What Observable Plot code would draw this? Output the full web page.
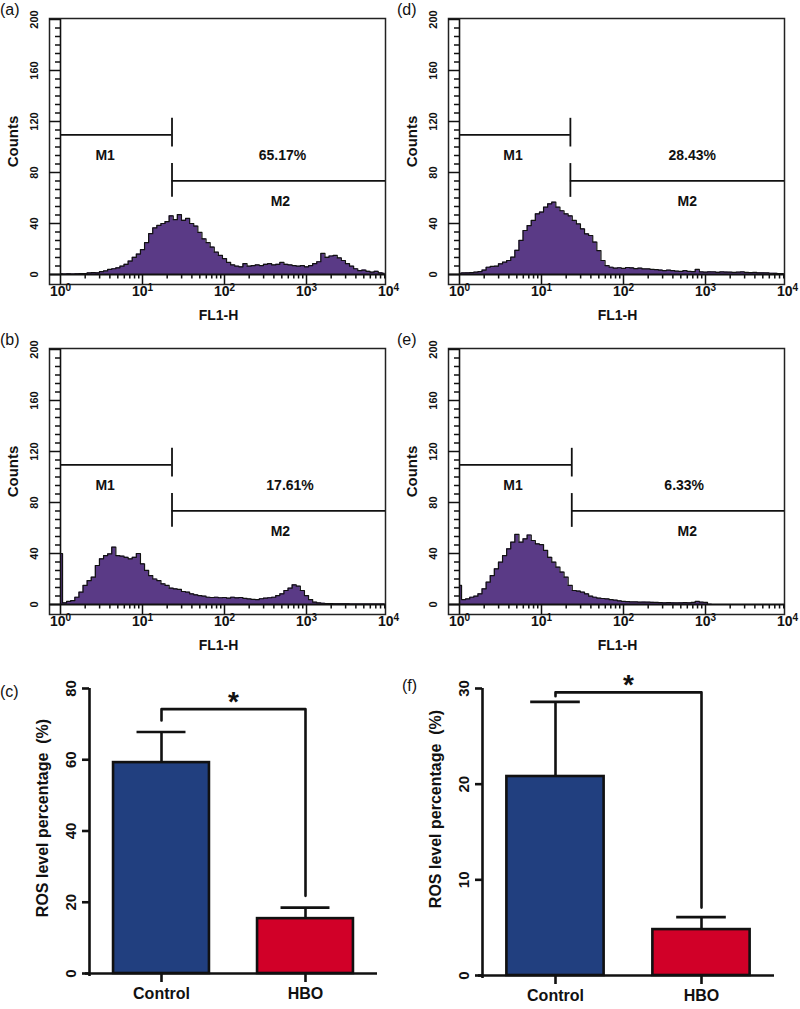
<!DOCTYPE html>
<html><head><meta charset="utf-8">
<script src="https://cdn.jsdelivr.net/npm/d3@7"></script>
<script src="https://cdn.jsdelivr.net/npm/@observablehq/plot@0.6"></script>
<style>
body{margin:0;background:#fff;}
#fig{position:relative;width:800px;height:1009px;font-family:"Liberation Sans",Arial,sans-serif;overflow:hidden;}
.panel{position:absolute;}
.lab{position:absolute;font-size:16px;color:#111;line-height:1;}
</style></head><body><div id="fig"></div>
<script>
// FL1-H channel positions (log10 units)
const logChannel = [
  0, 0.05, 0.1, 0.15, 0.2, 0.25, 0.3, 0.35, 0.4, 0.45,
  0.5, 0.55, 0.6, 0.65, 0.7, 0.75, 0.8, 0.85, 0.9, 0.95,
  1, 1.05, 1.1, 1.15, 1.2, 1.25, 1.3, 1.35, 1.4, 1.45,
  1.5, 1.55, 1.6, 1.65, 1.7, 1.75, 1.8, 1.85, 1.9, 1.95,
  2, 2.05, 2.1, 2.15, 2.2, 2.25, 2.3, 2.35, 2.4, 2.45,
  2.5, 2.55, 2.6, 2.65, 2.7, 2.75, 2.8, 2.85, 2.9, 2.95,
  3, 3.05, 3.1, 3.15, 3.2, 3.25, 3.3, 3.35, 3.4, 3.45,
  3.5, 3.55, 3.6, 3.65, 3.7, 3.75, 3.8, 3.85, 3.9, 3.95
];
const countsA = [
  0.5, 0.3, 0.5, 0.4, 0.6, 0.8, 0.7, 1.2, 1.5, 1.3,
  2.2, 2.8, 4.0, 4.5, 5.2, 6.5, 8.0, 10.5, 13.5, 16.0,
  19.5, 25.0, 32.0, 36.5, 38.5, 40.0, 41.5, 46.0, 43.0, 47.0,
  42.5, 44.0, 40.0, 38.0, 33.0, 28.0, 25.0, 21.5, 17.5, 15.0,
  12.5, 9.5, 7.5, 6.5, 6.0, 8.5, 6.5, 7.0, 7.5, 7.0,
  8.0, 8.5, 7.5, 8.0, 9.5, 8.0, 7.5, 7.0, 6.5, 7.0,
  6.0, 7.0, 8.5, 10.0, 16.5, 13.5, 14.5, 15.0, 13.0, 11.0,
  8.5, 6.5, 4.5, 3.0, 3.5, 2.5, 1.8, 2.5, 1.3, 1.0
];
const countsB = [
  40, 1.3, 2.4, 3.1, 5.7, 9.7, 15.0, 18.8, 21.4, 30.6,
  35.8, 38.4, 39.7, 45.0, 38.4, 37.9, 37.0, 35.8, 37.0, 40.0,
  31.9, 26.7, 22.7, 20.0, 18.8, 16.2, 15.0, 12.8, 12.3, 11.8,
  10.2, 9.7, 8.4, 7.6, 7.0, 6.5, 5.7, 5.5, 5.7, 5.3,
  5.5, 5.0, 5.7, 5.2, 5.5, 4.8, 4.4, 4.0, 3.9, 4.5,
  5.0, 5.3, 5.7, 7.0, 8.4, 11.0, 12.8, 15.4, 14.4, 11.0,
  7.0, 3.9, 1.8, 1.2, 1.0, 0.8, 0.8, 0.6, 0.5, 0.5,
  0.5, 0.4, 0.4, 0.4, 0.3, 0.3, 0.3, 0.3, 0.3, 0.3
];
const countsD = [
  1.0, 1.2, 1.3, 1.5, 1.8, 2.2, 3.5, 5.7, 6.3, 6.5,
  8.4, 9.7, 11.0, 13.6, 19.0, 26.7, 34.5, 38.4, 42.4, 47.6,
  49.0, 52.8, 55.4, 56.7, 52.8, 50.0, 47.6, 46.0, 42.4, 39.7,
  35.8, 31.9, 30.6, 25.4, 18.8, 11.0, 7.0, 5.7, 5.0, 5.3,
  4.8, 5.5, 5.2, 4.6, 5.0, 4.4, 4.4, 4.0, 3.9, 3.5,
  3.1, 3.4, 3.1, 2.6, 2.4, 3.0, 2.4, 2.2, 4.0, 2.0,
  1.8, 2.1, 2.0, 1.7, 2.0, 1.9, 1.8, 1.6, 1.8, 2.0,
  1.6, 1.5, 1.6, 1.3, 1.3, 1.2, 1.0, 0.9, 0.8, 0.8
];
const countsE = [
  15, 3.9, 4.4, 5.7, 6.5, 8.4, 12.3, 17.5, 22.7, 28.0,
  33.2, 38.4, 43.7, 48.9, 55.0, 48.9, 51.5, 54.5, 50.2, 47.6,
  47.0, 42.4, 37.0, 33.2, 29.3, 25.4, 21.4, 15.0, 11.0, 10.5,
  9.7, 8.4, 6.5, 5.7, 5.0, 4.7, 4.4, 3.8, 3.4, 2.9,
  2.4, 2.2, 2.0, 2.0, 1.8, 1.9, 1.8, 1.7, 1.6, 1.5,
  1.3, 1.4, 1.3, 1.2, 1.3, 1.4, 1.3, 1.6, 2.4, 1.8,
  1.6, 0.2, 0, 0, 0, 0, 0, 0, 0, 0,
  0, 0, 0, 0, 0, 0, 0, 0, 0, 0
];
// gates, in order a, b, d, e
const gateCut = [22.9, 22.9, 22.5, 23.4];
const gateM1 = [109.5, 109.5, 109.5, 109.5];
const gateM2 = [73.5, 73.5, 73.5, 73.5];
const gatePercent = ["65.17%", "17.61%", "28.43%", "6.33%"];
const m1LabelFL = [3.5, 3.5, 4.5, 4.5];
const pctLabelFL = [510, 630, 690, 550];
const m2LabelFL = [480, 480, 600, 600];
const countTicks = [0, 40, 80, 120, 160, 200];
const decadeTicks = [1, 10, 100, 1000, 10000];
const decadeBase = "10";
const decadeExponents = ["0", "1", "2", "3", "4"];

// bar charts
const groups = ["Control", "HBO"];
const groupColors = ["#213f7f", "#d10028"];
const rosMeanC = [59.2, 15.4];
const rosErrC = [8.6, 3.1];
const rosMeanF = [20.8, 4.8];
const rosErrF = [7.8, 1.3];
const rosTicksC = [0, 20, 40, 60, 80];
const rosTicksF = [0, 10, 20, 30];
const bracketC = [71, 74.2, 21.8];
const bracketF = [29.2, 29.6, 7.1];

const FONT = '"Liberation Sans", Arial, sans-serif';
const INK = "#111";
const fig = document.getElementById("fig");

function place(svg, left, top) {
  svg.classList.add("panel");
  svg.style.left = left + "px";
  svg.style.top = top + "px";
  fig.appendChild(svg);
}
function label(t, left, top) {
  const d = document.createElement("div");
  d.className = "lab"; d.textContent = t;
  d.style.left = left + "px"; d.style.top = top + "px";
  fig.appendChild(d);
}
// turn "10^k" tick labels into base + raised exponent
function superscripts(svg) {
  svg.querySelectorAll("text").forEach(t => {
    const m = /^10\^(\d)$/.exec(t.textContent);
    if (!m) return;
    t.textContent = decadeBase;
    const s = document.createElementNS("http://www.w3.org/2000/svg", "tspan");
    s.setAttribute("dy", "-0.45em");
    s.setAttribute("font-size", "10");
    s.textContent = m[1];
    t.appendChild(s);
  });
  return svg;
}

function histogram(counts, i) {
  const data = logChannel.map((L, k) => ({x: Math.pow(10, L), y: counts[k]}));
  const gate = [{cut: gateCut[i], m1: gateM1[i], m2: gateM2[i], pct: gatePercent[i],
                 m1x: m1LabelFL[i], px: pctLabelFL[i], m2x: m2LabelFL[i]}];
  const minorY = d3.range(0, 200.001, 40 / 6).filter(v => !countTicks.some(t => Math.abs(t - v) < 0.01));
  const minorX = [];
  for (let e = 0; e < 4; e++) for (let k = 2; k <= 9; k++) minorX.push(k * Math.pow(10, e));
  const svg = Plot.plot({
    width: 400, height: 330,
    marginLeft: 60, marginRight: 12, marginTop: 19, marginBottom: 56,
    style: {background: "transparent", fontFamily: FONT, color: INK, overflow: "visible"},
    x: {type: "log", domain: [1, 10000]},
    y: {domain: [0, 200]},
    marks: [
      Plot.areaY(data, {x: "x", y: "y", curve: "step", fill: "#5a3a86"}),
      Plot.lineY(data, {x: "x", y: "y", curve: "step", stroke: INK, strokeWidth: 1.2}),
      Plot.ruleY([0], {insetLeft: -11, insetRight: 3, stroke: INK, strokeWidth: 2.2}),
      Plot.frame({insetLeft: -11, insetTop: -1, insetRight: 3, insetBottom: -10, stroke: "#222", strokeWidth: 1.5}),
      Plot.ruleX([1], {insetBottom: -10, stroke: INK, strokeWidth: 1.6}),
      Plot.axisY({ticks: countTicks, tickSize: 11, fill: "none", label: null, stroke: INK, strokeWidth: 1.5}),
      Plot.axisY({ticks: minorY, tickSize: 5, fill: "none", label: null, stroke: INK, strokeWidth: 1.5}),
      Plot.axisX({ticks: [10, 100, 1000], tickSize: 10, fill: "none", label: null, stroke: INK, strokeWidth: 1.5}),
      Plot.axisX({ticks: minorX, tickSize: 4.5, fill: "none", label: null, stroke: INK, strokeWidth: 1.5}),
      Plot.text(countTicks, {y: d => d, text: d => String(d), frameAnchor: "left", textAnchor: "middle",
        rotate: -90, dx: -26, fontSize: 11, fontWeight: "bold", fill: INK}),
      Plot.text(decadeTicks, {x: d => d, text: (d, j) => decadeBase + "^" + decadeExponents[j], frameAnchor: "bottom",
        textAnchor: "middle", dy: 21, fontSize: 14, fontWeight: "bold", fill: INK}),
      Plot.text(["FL1-H"], {text: d => d, frameAnchor: "bottom", textAnchor: "middle", dx: -6, dy: 45,
        fontSize: 14, fontWeight: "bold", fill: INK}),
      Plot.text(["Counts"], {text: d => d, frameAnchor: "left", textAnchor: "middle", rotate: -90, dx: -47, dy: -5.5,
        fontSize: 15, fontWeight: "bold", fill: INK}),
      // gates
      Plot.ruleY(gate, {y: "m1", x1: 1, x2: "cut", stroke: INK, strokeWidth: 1.8}),
      Plot.ruleX(gate, {x: "cut", y1: d => d.m1 - 9.5, y2: d => d.m1 + 13, stroke: INK, strokeWidth: 1.8}),
      Plot.ruleY(gate, {y: "m2", x1: "cut", x2: 10000, insetRight: 3, stroke: INK, strokeWidth: 1.8}),
      Plot.ruleX(gate, {x: "cut", y1: d => d.m2 - 13, y2: d => d.m2 + 13.5, stroke: INK, strokeWidth: 1.8}),
      Plot.text(gate, {x: "m1x", y: d => d.m1 - 16.5, text: () => "M1", fontSize: 14, fontWeight: "bold", fill: INK}),
      Plot.text(gate, {x: "px", y: d => d.m1 - 16.5, text: "pct", fontSize: 14, fontWeight: "bold", fill: INK}),
      Plot.text(gate, {x: "m2x", y: d => d.m2 - 16.5, text: () => "M2", fontSize: 14, fontWeight: "bold", fill: INK})
    ]
  });
  return superscripts(svg);
}

function barPanel(means, errs, ticks, ymax, bracket, ml, mr, mb, titleDy) {
  const data = groups.map((g, i) => ({i, g, mean: means[i], err: errs[i], color: groupColors[i]}));
  const br = [
    {x: 0, y: bracket[0]}, {x: 0, y: bracket[1]},
    {x: 1, y: bracket[1]}, {x: 1, y: bracket[2]}
  ];
  return Plot.plot({
    width: 400, height: 369,
    marginLeft: ml, marginRight: mr, marginTop: 48, marginBottom: mb,
    style: {background: "transparent", fontFamily: FONT, color: INK, overflow: "visible"},
    x: {domain: [-0.5, 1.5]},
    y: {domain: [0, ymax]},
    color: {type: "identity"},
    marks: [
      Plot.rectY(data, {x1: d => d.i - 0.333, x2: d => d.i + 0.333, y1: 0, y2: "mean",
        fill: "color", stroke: INK, strokeWidth: 2.6}),
      Plot.ruleX(data, {x: "i", y1: "mean", y2: d => d.mean + d.err, stroke: INK, strokeWidth: 2.6}),
      Plot.ruleY(data, {y: d => d.mean + d.err, x1: d => d.i - 0.17, x2: d => d.i + 0.17, stroke: INK, strokeWidth: 2.6}),
      Plot.line(br, {x: "x", y: "y", stroke: INK, strokeWidth: 2.6}),
      Plot.text(["*"], {text: d => d, x: 0.5, y: bracket[1], dy: -7, fontSize: 28, fontWeight: "bold", fill: INK}),
      Plot.ruleX([-0.5], {insetBottom: -3, stroke: INK, strokeWidth: 2.6}),
      Plot.ruleY([0], {insetLeft: -4, stroke: INK, strokeWidth: 2.6}),
      Plot.axisY({ticks, tickSize: 7, fill: "none", label: null, stroke: INK, strokeWidth: 2.6}),
      Plot.axisX({ticks: [0, 1], tickSize: 9, fill: "none", label: null, stroke: INK, strokeWidth: 2.6}),
      Plot.text(ticks, {y: d => d, text: d => String(d), frameAnchor: "left", textAnchor: "middle", rotate: -90, dx: -18,
        fontSize: 15, fontWeight: "bold", fill: INK}),
      Plot.text(data, {x: "i", text: "g", frameAnchor: "bottom", textAnchor: "middle", dy: 25,
        fontSize: 16, fontWeight: "bold", fill: INK}),
      Plot.text(["ROS level percentage\u00a0 (%)"], {text: d => d, frameAnchor: "left", textAnchor: "middle",
        rotate: -90, dx: -47, dy: titleDy, fontSize: 16, fontWeight: "bold", fill: INK})
    ]
  });
}

place(histogram(countsA, 0), 0, 0);
place(histogram(countsB, 1), 0, 330);
place(histogram(countsD, 2), 399, 0);
place(histogram(countsE, 3), 399, 330);
place(barPanel(rosMeanC, rosErrC, rosTicksC, 80, bracketC, 89, 23, 36, -13), 0, 640);
place(barPanel(rosMeanF, rosErrF, rosTicksF, 30, bracketF, 82, 26, 34, -23), 400, 640);

label("(a)", 0, 2);
label("(d)", 397, 2);
label("(b)", 0, 332);
label("(e)", 397, 332);
label("(c)", 0, 684);
label("(f)", 402, 678);
</script>
</body></html>
